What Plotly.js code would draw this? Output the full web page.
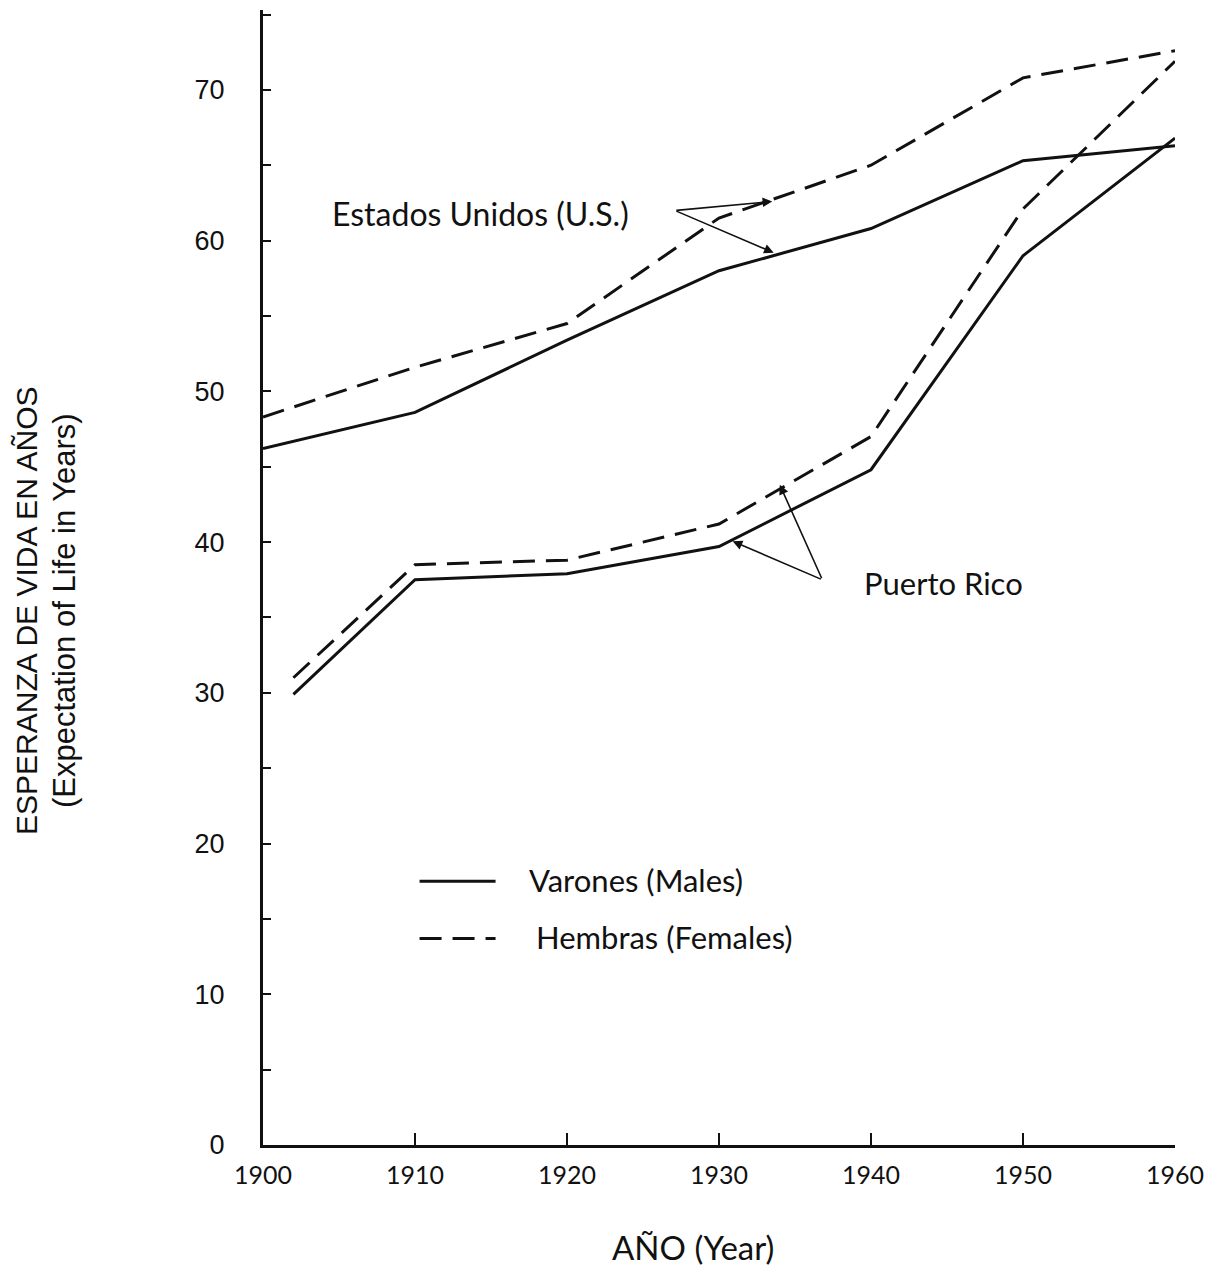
<!DOCTYPE html>
<html>
<head>
<meta charset="utf-8">
<script src="https://cdn.plot.ly/plotly-3.0.1.min.js"></script>
<style>html,body{margin:0;padding:0;background:#fff;}#chart{width:1224px;height:1266px;}</style>
</head>
<body>
<div id="chart"></div>
<script>
// Years
const usYears = [1900, 1910, 1920, 1930, 1940, 1950, 1960];
const prYears = [1902, 1910, 1920, 1930, 1940, 1950, 1960];
// Life expectancy
const usMales   = [46.2, 48.6, 53.4, 58.0, 60.8, 65.3, 66.3];
const usFemales = [48.3, 51.6, 54.5, 61.5, 65.0, 70.8, 72.6];
const prMales   = [29.9, 37.5, 37.9, 39.7, 44.8, 59.0, 66.8];
const prFemales = [31.0, 38.5, 38.8, 41.2, 47.0, 62.1, 71.9];
// Tick labels
const yTickVals = [0,5,10,15,20,25,30,35,40,45,50,55,60,65,70,75];
const yTickText = ["0","","10","","20","","30","","40","","50","","60","","70",""];
const xTickVals = [1900,1910,1920,1930,1940,1950,1960];
const xTickText = ["1900","1910","1920","1930","1940","1950","1960"];

const labelFont = "Lato, 'Open Sans', sans-serif";
const sansFont = "'Liberation Sans', Arial, sans-serif";
const lineStyle = (dash) => ({color: "#111", width: 3, dash: dash});

const traces = [
  {x: usYears, y: usMales, mode: "lines", line: lineStyle("solid"), name: "U.S. Varones (Males)", showlegend: false},
  {x: usYears, y: usFemales, mode: "lines", line: lineStyle("22px,11px"), name: "U.S. Hembras (Females)", showlegend: false},
  {x: prYears, y: prMales, mode: "lines", line: lineStyle("solid"), name: "Puerto Rico Varones (Males)", showlegend: false},
  {x: prYears, y: prFemales, mode: "lines", line: lineStyle("22px,11px"), name: "Puerto Rico Hembras (Females)", showlegend: false}
];

const arrowBase = {text: "", showarrow: true, arrowhead: 2, arrowsize: 1.2, arrowwidth: 1.6, arrowcolor: "#111", xref: "x", yref: "y", axref: "x", ayref: "y"};

const layout = {
  width: 1224, height: 1266,
  paper_bgcolor: "#fff", plot_bgcolor: "#fff",
  margin: {l: 263, r: 49, t: 10, b: 121},
  xaxis: {
    range: [1900, 1960], tickvals: xTickVals, ticktext: xTickText,
    ticks: "inside", ticklen: 12, tickwidth: 2, tickcolor: "#111",
    showline: true, linecolor: "#111", linewidth: 3, showgrid: false, zeroline: false,
    tickfont: {family: labelFont, size: 25, color: "#111"}, ticklabelstandoff: 6
  },
  yaxis: {
    range: [0, 75.3], tickvals: yTickVals, ticktext: yTickText,
    ticks: "inside", ticklen: 8, tickwidth: 2, tickcolor: "#111",
    showline: true, linecolor: "#111", linewidth: 3, showgrid: false, zeroline: false,
    tickfont: {family: sansFont, size: 27, color: "#111"}, ticklabelstandoff: 30
  },
  shapes: [
    {type: "line", xref: "x", yref: "y", x0: 1910.3, x1: 1915.3, y0: 17.5, y1: 17.5, line: {color: "#111", width: 3}},
    {type: "line", xref: "x", yref: "y", x0: 1910.3, x1: 1915.3, y0: 13.7, y1: 13.7, line: {color: "#111", width: 3, dash: "22px,11px"}}
  ],
  annotations: [
    {text: "ESPERANZA DE VIDA EN AÑOS", xref: "paper", yref: "paper", x: 0, xanchor: "center", xshift: -236, y: 0.4705, yanchor: "middle", textangle: -90, showarrow: false, font: {family: sansFont, size: 30, color: "#111"}},
    {text: "(Expectation of Life in Years)", xref: "paper", yref: "paper", x: 0, xanchor: "center", xshift: -198, y: 0.4705, yanchor: "middle", textangle: -90, showarrow: false, font: {family: sansFont, size: 31, color: "#111"}},
    {text: "AÑO (Year)", xref: "paper", yref: "paper", x: 0.471, xanchor: "center", y: 0, yanchor: "middle", yshift: -102, showarrow: false, font: {family: labelFont, size: 33, color: "#111"}},
    {text: "Estados Unidos (U.S.)", xref: "x", yref: "y", x: 1914.3, y: 61.8, showarrow: false, font: {family: labelFont, size: 32, color: "#111"}},
    {text: "Puerto Rico", xref: "x", yref: "y", x: 1944.8, y: 37.3, showarrow: false, font: {family: labelFont, size: 31, color: "#111"}},
    {text: "Varones (Males)", xref: "x", yref: "y", x: 1917.4, y: 17.6, xanchor: "left", showarrow: false, font: {family: labelFont, size: 31, color: "#111"}},
    {text: "Hembras (Females)", xref: "x", yref: "y", x: 1917.8, y: 13.8, xanchor: "left", showarrow: false, font: {family: labelFont, size: 31, color: "#111"}},
    Object.assign({}, arrowBase, {x: 1933.5, y: 62.6, ax: 1927.1, ay: 62.0}),
    Object.assign({}, arrowBase, {x: 1933.6, y: 59.2, ax: 1927.1, ay: 62.0}),
    Object.assign({}, arrowBase, {x: 1930.9, y: 40.05, ax: 1936.8, ay: 37.5}),
    Object.assign({}, arrowBase, {x: 1934.0, y: 43.8, ax: 1936.8, ay: 37.5})
  ],
  showlegend: false
};

Plotly.newPlot("chart", traces, layout, {displayModeBar: false, staticPlot: true});
</script>
</body>
</html>
